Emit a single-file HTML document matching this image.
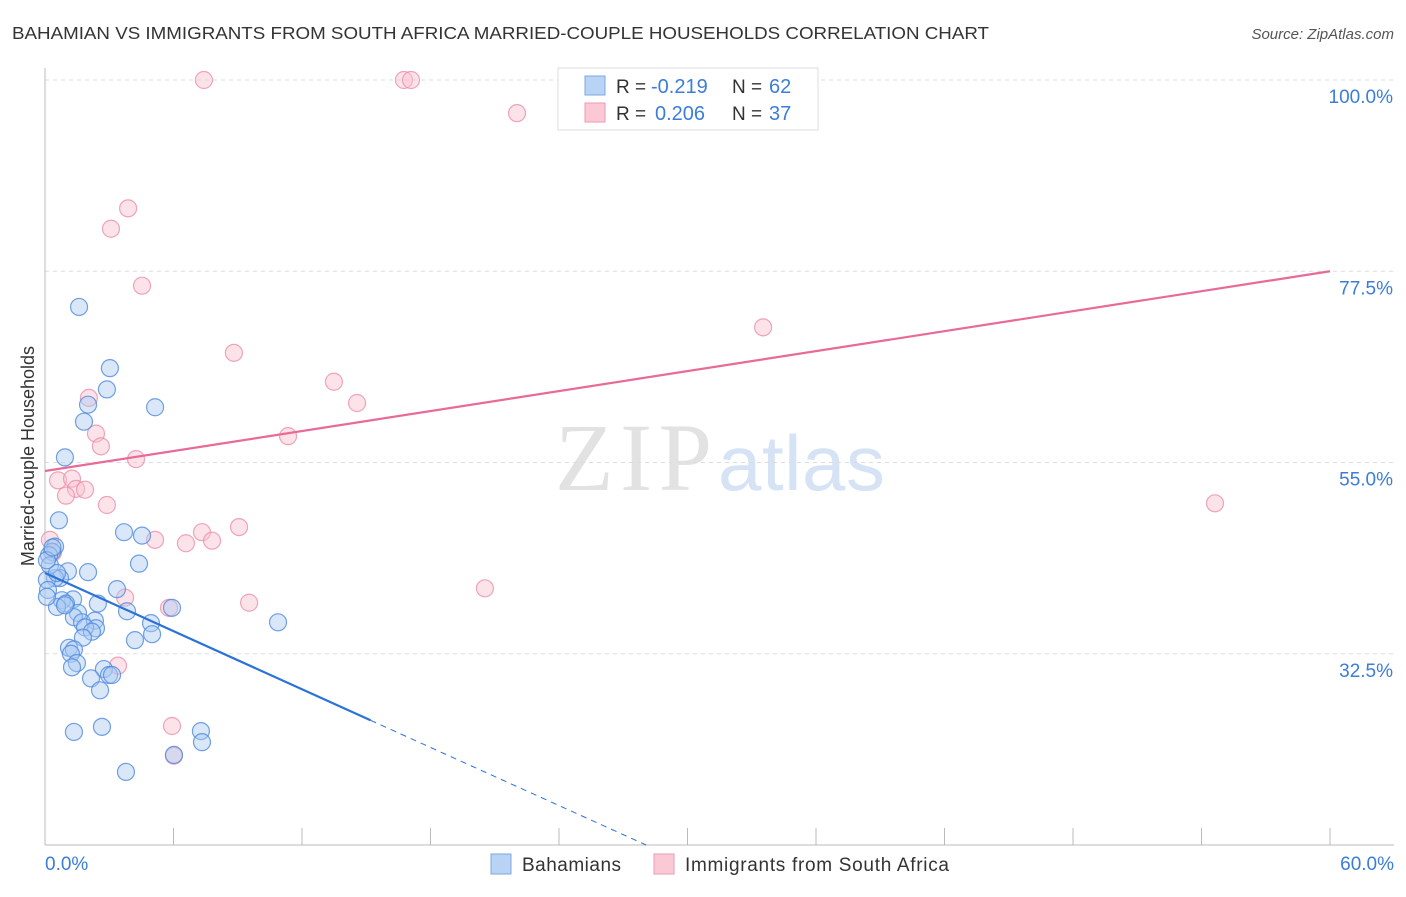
<!DOCTYPE html>
<html><head><meta charset="utf-8"><style>
body{margin:0;background:#fff;font-family:"Liberation Sans",sans-serif;}
</style></head><body>
<svg width="1406" height="892" viewBox="0 0 1406 892" xmlns="http://www.w3.org/2000/svg">
<text x="12" y="39" font-size="17.5" fill="#333" textLength="977" lengthAdjust="spacingAndGlyphs">BAHAMIAN VS IMMIGRANTS FROM SOUTH AFRICA MARRIED-COUPLE HOUSEHOLDS CORRELATION CHART</text>
<text x="1394" y="39" font-size="15" fill="#555" text-anchor="end" font-style="italic">Source: ZipAtlas.com</text>
<g><text x="555" y="490" font-size="96" fill="#e2e2e2" font-family="Liberation Serif,serif" textLength="157">ZIP</text><text x="718" y="490" font-size="78" fill="#d6e3f5" textLength="167">atlas</text></g>
<g id="grid"></g>
<line x1="45" y1="68" x2="45" y2="845" stroke="#bbb"/>
<line x1="45" y1="845" x2="1394" y2="845" stroke="#bbb"/>
<g id="xticks"></g>
<text x="34" y="456" font-size="18" fill="#333" text-anchor="middle" transform="rotate(-90 34 456)">Married-couple Households</text>
<text x="45" y="870" font-size="19" fill="#3b7dd8">0.0%</text>
<text x="1394" y="870" font-size="19" fill="#3b7dd8" text-anchor="end">60.0%</text>
<g id="pts"></g>
<g id="lines"></g>
<g>
<rect x="558" y="68" width="260" height="62" fill="#fff" stroke="#ddd"/>
<rect x="585" y="76" width="20" height="19" fill="#b9d3f5" stroke="#7aa7e6"/>
<rect x="585" y="103" width="20" height="19" fill="#fbc9d6" stroke="#ee9ab2"/>
<text x="616" y="93" font-size="19" fill="#333">R =</text><text x="651" y="93" font-size="20" fill="#3b7dd8">-0.219</text>
<text x="732" y="93" font-size="19" fill="#333">N =</text><text x="769" y="93" font-size="20" fill="#3b7dd8">62</text>
<text x="616" y="120" font-size="19" fill="#333">R =</text><text x="655" y="120" font-size="20" fill="#3b7dd8">0.206</text>
<text x="732" y="120" font-size="19" fill="#333">N =</text><text x="769" y="120" font-size="20" fill="#3b7dd8">37</text>
</g>
<g>
<rect x="491" y="854" width="20" height="20" fill="#b9d3f5" stroke="#7aa7e6"/>
<text x="522" y="871" font-size="19" fill="#333" textLength="99">Bahamians</text>
<rect x="654" y="854" width="20" height="20" fill="#fbc9d6" stroke="#ee9ab2"/>
<text x="685" y="871" font-size="19" fill="#333" textLength="264">Immigrants from South Africa</text>
</g>
</svg>
<script>
const yTicks=[100,77.5,55,32.5];
const xTickVals=[0,6,12,18,24,30,36,42,48,54,60];
const bahX=[1.59,3.03,2.89,2.01,5.14,1.82,0.93,0.65,3.69,4.53,0.47,0.33,0.19,4.39,2.01,1.07,0.70,0.47,0.09,0.14,3.36,1.31,0.79,0.98,0.56,3.83,5.93,1.54,1.35,1.73,2.33,4.95,2.38,1.87,2.19,5.0,1.77,4.2,1.12,1.35,1.21,10.88,1.49,1.26,2.75,2.99,2.15,2.57,1.35,2.66,7.28,7.33,6.02,3.78,0.09,0.23,0.93,3.13,0.56,0.09,2.47,0.35];
const bahY=[73.3,66.1,63.6,61.8,61.5,59.8,55.6,48.2,46.8,46.4,45.1,44.5,44.1,43.1,42.1,42.2,41.4,41.4,41.2,40.0,40.1,38.9,38.8,38.4,38.0,37.5,37.9,37.3,36.8,36.2,36.4,36.1,35.5,35.6,35.1,34.8,34.4,34.1,33.2,33.0,32.5,36.2,31.4,30.9,30.7,30.0,29.6,28.2,23.3,23.9,23.4,22.1,20.6,18.6,39.2,42.9,38.2,30.0,42.0,43.5,38.4,45.0];
const zafX=[7.42,16.76,17.09,22.04,3.88,3.08,4.53,33.53,8.82,13.49,14.57,2.05,2.38,2.61,11.35,4.25,0.61,1.26,1.45,1.87,0.98,2.89,54.63,9.06,7.33,6.58,7.8,5.14,0.23,0.37,3.74,9.53,5.79,20.54,3.41,5.93,6.02];
const zafY=[100,100,100,96.1,84.9,82.5,75.8,70.9,67.9,64.5,62.0,62.6,58.4,56.9,58.1,55.4,52.9,53.1,51.9,51.8,51.1,50.0,50.2,47.4,46.8,45.5,45.8,45.9,45.9,44.4,39.1,38.5,37.9,40.2,31.1,24.0,20.5];
const zafTrend=[54.0,77.5];   // value at x=0 and x=60
const bahTrend=[42.0,-1.14];  // intercept, slope per %
const bahSolidEnd=15.2;
const xS=v=>45+v/60*1285, yS=v=>80+(100-v)*8.5;
const NS='http://www.w3.org/2000/svg';
function mk(t,a,p){const e=document.createElementNS(NS,t);for(const k in a)e.setAttribute(k,a[k]);p.appendChild(e);return e;}
const grid=document.getElementById('grid');
yTicks.forEach(v=>{
const l=mk('line',{x1:45,x2:1394,y1:yS(v),y2:yS(v),stroke:'#ddd','stroke-dasharray':'4 4'},grid);


const t=mk('text',{x:1393,y:yS(v)+23,'font-size':19,fill:'#3b7dd8','text-anchor':'end'},grid);
t.textContent=v.toFixed(1)+'%';


});
const xt=document.getElementById('xticks');
xTickVals.forEach(v=>{
const l=mk('line',{x1:xS(v),x2:xS(v),y1:828,y2:845,stroke:'#bbb'},xt);


});
const pts=document.getElementById('pts');
function dots(X,Y,fill,stroke,name){X.forEach((x,i)=>{
const c=mk('circle',{cx:xS(x),cy:yS(Y[i]),r:8.5,fill:fill,'fill-opacity':0.45,stroke:stroke,'stroke-opacity':0.8,'stroke-width':1.2},pts);


});}
dots(zafX,zafY,'#f9c0d0','#ec8eaa','point-south-africa');
dots(bahX,bahY,'#aac9f1','#4f8ade','point-bahamian');
const ln=document.getElementById('lines');
let l=mk('line',{x1:xS(0),y1:yS(zafTrend[0]),x2:xS(60),y2:yS(zafTrend[1]),stroke:'#e86a96','stroke-width':2.2},ln);


const [ba,bb]=bahTrend;
const xd=Math.min((10-ba)/bb,60);
l=mk('line',{x1:xS(0),y1:yS(ba),x2:xS(bahSolidEnd),y2:yS(ba+bb*bahSolidEnd),stroke:'#2a72d8','stroke-width':2.2},ln);


l=mk('line',{x1:xS(bahSolidEnd),y1:yS(ba+bb*bahSolidEnd),x2:xS(xd),y2:yS(ba+bb*xd),stroke:'#2a72d8','stroke-width':1,'stroke-dasharray':'6 5'},ln);


</script>
</body></html>
